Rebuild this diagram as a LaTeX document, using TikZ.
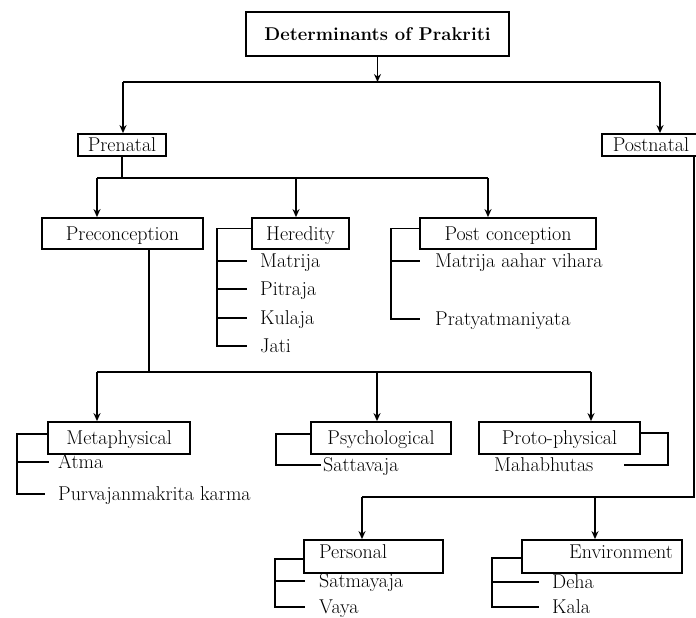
\documentclass[tikz,border=0pt]{standalone}
\usepackage{amsmath}
\usetikzlibrary{arrows.meta}

\begin{document}
\begin{tikzpicture}[x=1pt,y=-1pt,
  box/.style={draw,line width=1.8pt,inner sep=0pt,text height=13pt,text depth=0pt,font=\fontsize{20}{24}\selectfont},
  item/.style={anchor=west,inner sep=0pt,text height=13pt,text depth=0pt,font=\fontsize{20}{24}\selectfont},
  link/.style={line width=1.4pt},
  arr/.style={line width=1.4pt,-{Stealth[length=8pt,width=7pt]}},
  brk/.style={line width=1.8pt}]
\useasboundingbox (0,0) rectangle (696,618);

\node[box,font=\bfseries\fontsize{18.5}{22}\selectfont,minimum width=263pt,minimum height=44pt] (det) at (377.5,34) {Determinants of Prakriti};
\node[box,minimum width=88pt,minimum height=22pt] (pre) at (122,145) {Prenatal};
\node[box,minimum width=98pt,minimum height=22pt] (post) at (651,145) {Postnatal};

\node[box,minimum width=161pt,minimum height=31pt] (precon) at (122.5,233.5) {Preconception};
\node[box,minimum width=97pt,minimum height=31pt] (hered) at (300.5,233.5) {Heredity};
\node[box,minimum width=176pt,minimum height=31pt] (postcon) at (508,233.5) {Post conception};

\node[item] (matrija) at (260,261) {Matrija};
\node[item] (pitraja) at (260,289) {Pitraja};
\node[item] (kulaja) at (260,318) {Kulaja};
\node[item] (jati) at (260,346) {Jati};
\node[item] (mav) at (435,261) {Matrija aahar vihara};
\node[item] (praty) at (435,319) {Pratyatmaniyata};

\node[box,minimum width=142pt,minimum height=32pt] (meta) at (119,438) {Metaphysical};
\node[box,minimum width=140pt,minimum height=32pt] (psych) at (381,438) {Psychological};
\node[box,minimum width=161pt,minimum height=32pt] (proto) at (559.5,438) {Proto-physical};

\node[item] (atma) at (58,462) {Atma};
\node[item] (purva) at (58,494) {Purvajanmakrita karma};
\node[item] (satt) at (323,465) {Sattavaja};
\node[item] (mahab) at (494,465) {Mahabhutas};

\node[box,inner xsep=15pt,text width=109pt,align=left,text height=18.5pt,text depth=14.5pt] (pers) at (373.5,556.5) {Personal};
\node[box,inner xsep=9pt,text width=142pt,align=right,text height=18.5pt,text depth=14.5pt] (env) at (602,556.5) {Environment};

\node[item] (satm) at (319,581) {Satmayaja};
\node[item] (vaya) at (319,607) {Vaya};
\node[item] (deha) at (552,582) {Deha};
\node[item] (kala) at (552,607) {Kala};

\coordinate (j0) at (377.5,82);
\coordinate (j1) at (123,82);
\coordinate (j2) at (660,82);
\draw[arr] (det.south) -- (j0);
\draw[link] (j1) -- (j2);
\draw[arr] (j1) -- (j1 |- pre.north);
\draw[arr] (j2) -- (j2 |- post.north);

\coordinate (a0) at (122,178);
\coordinate (a1) at (97,178);
\coordinate (a2) at (296,178);
\coordinate (a3) at (488,178);
\draw[link] (pre.south) -- (a0);
\draw[link] (a1) -- (a3);
\draw[arr] (a1) -- (a1 |- precon.north);
\draw[arr] (a2) -- (a2 |- hered.north);
\draw[arr] (a3) -- (a3 |- postcon.north);

\coordinate (hb) at (217,0);
\draw[brk] ([yshift=5pt]hered.west) -| (hb |- jati.west) -- ([xshift=-13pt]jati.west);
\foreach \n in {matrija,pitraja,kulaja}
  \draw[brk] (hb |- \n.west) -- ([xshift=-13pt]\n.west);
\coordinate (pb) at (391,0);
\draw[brk] ([yshift=5pt]postcon.west) -| (pb |- praty.west) -- ([xshift=-15pt]praty.west);
\draw[brk] (pb |- mav.west) -- ([xshift=-15pt]mav.west);

\coordinate (b0) at (149,372);
\coordinate (b1) at (97,372);
\coordinate (b2) at (377,372);
\coordinate (b3) at (591,372);
\draw[link] (b0 |- precon.south) -- (b0);
\draw[link] (b1) -- (b3);
\draw[arr] (b1) -- (b1 |- meta.north);
\draw[arr] (b2) -- (b2 |- psych.north);
\draw[arr] (b3) -- (b3 |- proto.north);

\coordinate (mb) at (17,0);
\draw[brk] ([yshift=4pt]meta.west) -| (mb |- purva.west) -- ([xshift=-13pt]purva.west);
\draw[brk] (mb |- atma.west) -- ([xshift=-9pt]atma.west);
\coordinate (sb) at (276,0);
\draw[brk] ([yshift=4pt]psych.west) -| (sb |- satt.west) -- ([xshift=-2pt]satt.west);
\coordinate (rb) at (668,0);
\draw[brk] ([yshift=5pt]proto.east) -| (rb |- mahab.east) -- ++(-44,0);

\coordinate (c0) at (694,497);
\coordinate (c1) at (362,497);
\coordinate (c2) at (595,497);
\draw[link] (c0 |- post.south) -- (c0) -- (c1);
\draw[arr] (c1) -- (c1 |- pers.north);
\draw[arr] (c2) -- (c2 |- env.north);

\coordinate (qb) at (275,0);
\draw[brk] ([yshift=-2.5pt]pers.west) -| (qb |- vaya.west) -- ([xshift=-14pt]vaya.west);
\draw[brk] (qb |- satm.west) -- ([xshift=-14pt]satm.west);
\coordinate (eb) at (492,0);
\draw[brk] ([yshift=-1.5pt]env.west) -| (eb |- kala.west) -- ([xshift=-13pt]kala.west);
\draw[brk] (eb |- deha.west) -- ([xshift=-13pt]deha.west);
\end{tikzpicture}
\end{document}
